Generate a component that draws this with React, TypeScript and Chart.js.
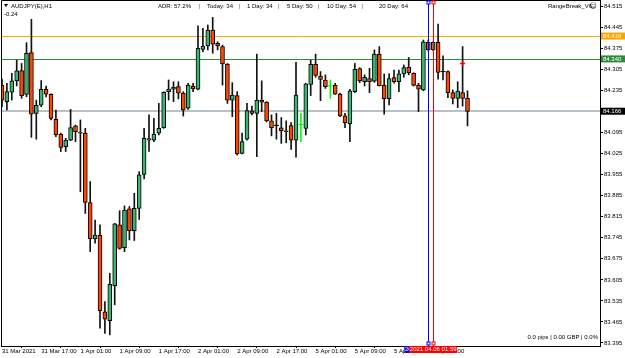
import React, { useEffect, useRef } from 'react';
import { Chart, registerables } from 'chart.js';

Chart.register(...registerables);

// ---- Data (AUDJPY H1) ----
const opens = [
  84.253, 84.198, 84.229, 84.267, 84.301, 84.222, 84.361, 84.159, 84.186, 84.239,
  84.222, 84.139, 84.090, 84.048, 84.070, 84.117, 84.096, 84.093, 83.862, 83.742,
  83.753, 83.499, 83.469, 83.586, 83.788, 83.712, 83.841, 83.769, 83.843, 83.956,
  84.070, 84.070, 84.093, 84.111, 84.231, 84.239, 84.248, 84.226, 84.176, 84.250,
  84.239, 84.372, 84.383, 84.436, 84.392, 84.381, 84.322, 84.203, 84.218, 84.026,
  84.073, 84.167, 84.159, 84.203, 84.196, 84.134, 84.119, 84.111, 84.101, 84.118,
  84.070, 84.122, 84.109, 84.255, 84.322, 84.283, 84.270, 84.250, 84.252, 84.223,
  84.151, 84.125, 84.231, 84.308, 84.264, 84.275, 84.266, 84.355, 84.253, 84.208,
  84.278, 84.264, 84.290, 84.312, 84.292, 84.252, 84.237, 84.395, 84.370, 84.395,
  84.298, 84.298, 84.228, 84.209, 84.228, 84.209,
];
const highs = [
  84.273, 84.259, 84.292, 84.336, 84.325, 84.394, 84.472, 84.203, 84.268, 84.250,
  84.224, 84.170, 84.093, 84.076, 84.172, 84.120, 84.137, 84.109, 83.932, 83.804,
  83.788, 83.533, 83.627, 83.793, 83.835, 83.851, 83.849, 83.893, 83.965, 84.109,
  84.154, 84.142, 84.192, 84.231, 84.270, 84.264, 84.264, 84.231, 84.259, 84.259,
  84.450, 84.442, 84.453, 84.478, 84.397, 84.386, 84.325, 84.261, 84.231, 84.093,
  84.192, 84.183, 84.356, 84.267, 84.198, 84.154, 84.159, 84.145, 84.134, 84.128,
  84.329, 84.159, 84.259, 84.336, 84.356, 84.298, 84.287, 84.270, 84.259, 84.226,
  84.159, 84.239, 84.325, 84.311, 84.287, 84.309, 84.370, 84.381, 84.290, 84.290,
  84.303, 84.303, 84.320, 84.345, 84.294, 84.259, 84.403, 84.403, 84.397, 84.456,
  84.350, 84.300, 84.237, 84.264, 84.381, 84.234,
];
const lows = [
  84.181, 84.170, 84.203, 84.250, 84.209, 84.214, 84.079, 84.073, 84.181, 84.214,
  84.137, 84.081, 84.032, 84.032, 84.068, 84.065, 83.898, 83.826, 83.699, 83.727,
  83.444, 83.427, 83.422, 83.522, 83.707, 83.699, 83.738, 83.736, 83.806, 83.941,
  84.032, 84.065, 84.087, 84.109, 84.203, 84.198, 84.207, 84.150, 84.172, 84.231,
  84.237, 84.364, 84.370, 84.359, 84.370, 84.253, 84.192, 84.148, 84.020, 84.024,
  84.070, 84.154, 84.015, 84.165, 84.131, 84.084, 84.073, 84.059, 84.061, 84.039,
  84.013, 84.065, 84.087, 84.218, 84.279, 84.201, 84.242, 84.209, 84.222, 84.148,
  84.111, 84.065, 84.228, 84.261, 84.250, 84.228, 84.262, 84.250, 84.156, 84.187,
  84.259, 84.231, 84.279, 84.287, 84.250, 84.165, 84.234, 84.367, 84.367, 84.273,
  84.270, 84.211, 84.190, 84.178, 84.183, 84.117,
];
const closes = [
  84.203, 84.231, 84.267, 84.300, 84.218, 84.359, 84.156, 84.186, 84.239, 84.223,
  84.142, 84.087, 84.046, 84.070, 84.112, 84.098, 84.093, 83.863, 83.742, 83.754,
  83.502, 83.474, 83.590, 83.791, 83.710, 83.837, 83.768, 83.843, 83.954, 84.076,
  84.075, 84.090, 84.109, 84.229, 84.240, 84.246, 84.226, 84.170, 84.253, 84.240,
  84.375, 84.383, 84.436, 84.389, 84.383, 84.323, 84.203, 84.220, 84.024, 84.065,
  84.168, 84.159, 84.203, 84.196, 84.134, 84.111, 84.119, 84.101, 84.098, 84.070,
  84.220, 84.122, 84.257, 84.322, 84.285, 84.272, 84.248, 84.250, 84.223, 84.150,
  84.128, 84.234, 84.305, 84.267, 84.279, 84.264, 84.356, 84.251, 84.208, 84.275,
  84.264, 84.290, 84.311, 84.294, 84.252, 84.239, 84.397, 84.370, 84.395, 84.295,
  84.298, 84.228, 84.209, 84.233, 84.209, 84.165,
];
const limeDojiBars = [61, 67];

const timeTickBars = [0, 8, 16, 24, 32, 40, 48, 56, 64, 72, 80, 88];
const timeTickLabels = [
  '31 Mar 2021', '31 Mar 17:00', '1 Apr 01:00', '1 Apr 09:00', '1 Apr 17:00', '2 Apr 01:00',
  '2 Apr 09:00', '2 Apr 17:00', '5 Apr 01:00', '5 Apr 09:00', '5 Apr 17:00', '6 Apr 01:00',
];
const priceTicks = [
  83.395, 83.465, 83.535, 83.605, 83.675, 83.745, 83.815, 83.885, 83.955, 84.025,
  84.095, 84.235, 84.305, 84.375, 84.445, 84.515,
];
const levelPrices = [84.416, 84.340, 84.166];
const levelLabels = ['84.416', '84.340', '84.166'];

const vlineBars = [87, 88];
const vlineLabels = ['2021.04.06 00:00', '2021.04.06 01:59'];

const arrowBar = [94];
const arrowPrice = [84.325];

const symbolText = 'AUDJPY(E),H1';
const changeText = '-0.24';
const headerTexts = ['ADR: 57.2%', '|', 'Today: 34', '|', '1 Day: 34', '|', '5 Day: 50', '|', '10 Day: 54', '|', '20 Day: 64'];
const indicatorName = 'RangeBreak_V6';
const footerText = '0.0 pips | 0.00 GBP | 0.0%';

// ---- Styles ----
const FONT = '"Liberation Sans", Arial, sans-serif';
const FS = 6;
const UP = '#3CB371';
const DOWN = '#FF4500';
const LIME = '#00FF00';
const levelColors = ['#FFA500', '#2E8B3A', '#B8C0C8'];
const levelBoxBg = ['#FFA500', '#2E8B3A', '#000000'];
const levelWidths = [1, 1, 2];
const vlineColors = ['#0000FF', '#FF0000'];
const headerX = [158, 199, 207, 239, 247, 278, 287, 318, 327, 362, 379];

export default function App() {
  const ref = useRef<HTMLCanvasElement>(null);

  useEffect(() => {
    document.body.style.margin = '0';
    const canvas = ref.current;
    if (!canvas) return;

    const idx = opens.map((_, i) => i);
    const isDoji = (i: number) => opens[i] === closes[i];
    const isLime = (i: number) => limeDojiBars.includes(i);

    const wickData = idx.map((i) => ({ x: i, y: [lows[i], highs[i]] }));
    const bodyData = idx.filter((i) => !isDoji(i)).map((i) => ({ x: i, y: [opens[i], closes[i]] }));
    const dojiData = idx.filter(isDoji).map((i) => ({ x: i, y: opens[i] }));
    const arrowData = arrowBar.map((b, k) => ({ x: b, y: arrowPrice[k] }));

    const overlay = {
      id: 'overlay',
      beforeDatasetsDraw(chart: any) {
        const { ctx, chartArea: a, scales } = chart;
        const y = scales.y;
        ctx.save();
        levelPrices.forEach((p, k) => {
          const py = Math.round(y.getPixelForValue(p)) + (levelWidths[k] % 2 ? 0.5 : 0);
          ctx.strokeStyle = levelColors[k];
          ctx.lineWidth = levelWidths[k];
          ctx.beginPath();
          ctx.moveTo(a.left, py);
          ctx.lineTo(a.right, py);
          ctx.stroke();
        });
        ctx.restore();
      },
      afterDraw(chart: any) {
        const { ctx, chartArea: a, scales } = chart;
        const x = scales.x;
        const y = scales.y;
        ctx.save();
        // frame
        ctx.strokeStyle = '#000';
        ctx.lineWidth = 1;
        ctx.beginPath();
        ctx.moveTo(a.left + 0.5, a.bottom);
        ctx.lineTo(a.left + 0.5, a.top + 0.5);
        ctx.lineTo(a.right, a.top + 0.5);
        ctx.stroke();

        // vertical lines
        vlineBars.forEach((b, k) => {
          const px = Math.round(x.getPixelForValue(b)) + 0.5;
          ctx.strokeStyle = vlineColors[k];
          ctx.lineWidth = 1;
          ctx.beginPath();
          ctx.moveTo(px, a.top);
          ctx.lineTo(px, a.bottom);
          ctx.stroke();
          ctx.fillStyle = '#fff';
          ctx.fillRect(px - 1.5, a.top + 1, 3, 3);
          ctx.strokeRect(px - 1.5, a.top + 1, 3, 3);
          ctx.fillRect(px - 1.5, a.bottom - 4, 3, 3);
          ctx.strokeRect(px - 1.5, a.bottom - 4, 3, 3);
        });
        // time boxes at bottom
        ctx.font = `${FS}px ${FONT}`;
        ctx.textAlign = 'center';
        ctx.textBaseline = 'middle';
        vlineBars.forEach((b, k) => {
          const px = x.getPixelForValue(b);
          ctx.fillStyle = vlineColors[k];
          ctx.fillRect(px - 24, a.bottom, 48, 7);
          ctx.fillStyle = '#fff';
          ctx.fillText(vlineLabels[k], px, a.bottom + 3.8);
        });

        // level boxes on price axis
        ctx.textAlign = 'left';
        levelPrices.forEach((p, k) => {
          const py = y.getPixelForValue(p);
          ctx.fillStyle = levelBoxBg[k];
          ctx.fillRect(a.right + 1, py - 3.5, 24, 7);
          ctx.fillStyle = '#fff';
          ctx.fillText(levelLabels[k], a.right + 3, py + 0.3);
        });

        // header texts
        ctx.fillStyle = '#000';
        ctx.textBaseline = 'middle';
        ctx.textAlign = 'left';
        ctx.beginPath();
        ctx.moveTo(4, 4);
        ctx.lineTo(8, 4);
        ctx.lineTo(6, 7);
        ctx.closePath();
        ctx.fill();
        ctx.fillText(symbolText, 11, 6);
        ctx.fillText(changeText, 4, 14.5);
        headerTexts.forEach((t, k) => {
          ctx.fillStyle = t === '|' ? '#555' : '#000';
          ctx.fillText(t, headerX[k], 6);
        });
        ctx.fillStyle = '#000';
        ctx.fillText(indicatorName, 548, 6);
        ctx.font = `7px "DejaVu Sans", sans-serif`;
        ctx.fillText('\u263A', 589.5, 6);
        ctx.font = `${FS}px ${FONT}`;
        ctx.textAlign = 'right';
        ctx.fillText(footerText, 598, 337.5);
        ctx.restore();
      },
    };

    const chart = new Chart(canvas, {
      type: 'bar',
      data: {
        datasets: [
          {
            type: 'bar',
            data: wickData as any,
            grouped: false,
            barThickness: 1,
            backgroundColor: (c: any) => (c.raw && isLime(c.raw.x) ? LIME : '#111'),
            borderWidth: 0,
            order: 3,
          } as any,
          {
            type: 'bar',
            data: bodyData as any,
            grouped: false,
            barThickness: 4,
            backgroundColor: (c: any) =>
              c.raw && c.raw.y[1] > c.raw.y[0] ? UP : DOWN,
            borderColor: '#000',
            borderWidth: 1,
            borderSkipped: false,
            order: 2,
          } as any,
          {
            type: 'scatter',
            data: dojiData as any,
            pointStyle: 'line',
            pointRadius: 2.5,
            borderWidth: 1,
            borderColor: (c: any) => (c.raw && isLime(c.raw.x) ? LIME : '#000'),
            order: 1,
          } as any,
          {
            type: 'scatter',
            data: arrowData as any,
            pointStyle: 'cross',
            pointRadius: 2.5,
            borderWidth: 1.5,
            borderColor: '#FF0000',
            order: 0,
          } as any,
        ],
      },
      options: {
        responsive: false,
        animation: false,
        devicePixelRatio: 1,
        layout: { autoPadding: false, padding: { left: 1, top: 0, right: 0, bottom: 0 } },
        plugins: { legend: { display: false }, tooltip: { enabled: false } },
        scales: {
          x: {
            type: 'linear',
            position: 'bottom',
            min: -0.204,
            max: 122.04,
            offset: false,
            afterBuildTicks: (s: any) => {
              s.ticks = timeTickBars.map((v) => ({ value: v }));
            },
            afterFit: (s: any) => {
              s.height = 12;
              s.paddingLeft = 0;
              s.paddingRight = 0;
            },
            ticks: {
              autoSkip: false,
              maxRotation: 0,
              minRotation: 0,
              align: 'start',
              padding: 0,
              color: '#000',
              font: { family: FONT, size: FS },
              callback: (v: any) => {
                const k = timeTickBars.indexOf(Number(v));
                return k >= 0 ? timeTickLabels[k] : '';
              },
            },
            grid: { drawOnChartArea: false, tickLength: 2, color: '#000' },
            border: { color: '#000' },
          },
          y: {
            type: 'linear',
            position: 'right',
            min: 83.385,
            max: 84.536,
            afterBuildTicks: (s: any) => {
              s.ticks = priceTicks.map((v) => ({ value: v }));
            },
            afterFit: (s: any) => {
              s.width = 25;
              s.paddingTop = 0;
              s.paddingBottom = 0;
            },
            ticks: {
              autoSkip: false,
              padding: 1,
              color: '#000',
              font: { family: FONT, size: FS },
              callback: (v: any) => Number(v).toFixed(3),
            },
            grid: { drawOnChartArea: false, tickLength: 3, color: '#000' },
            border: { color: '#000' },
          },
        },
      } as any,
      plugins: [overlay],
    });

    return () => chart.destroy();
  }, []);

  return <canvas ref={ref} width={625} height={358} style={{ display: 'block' }} />;
}
